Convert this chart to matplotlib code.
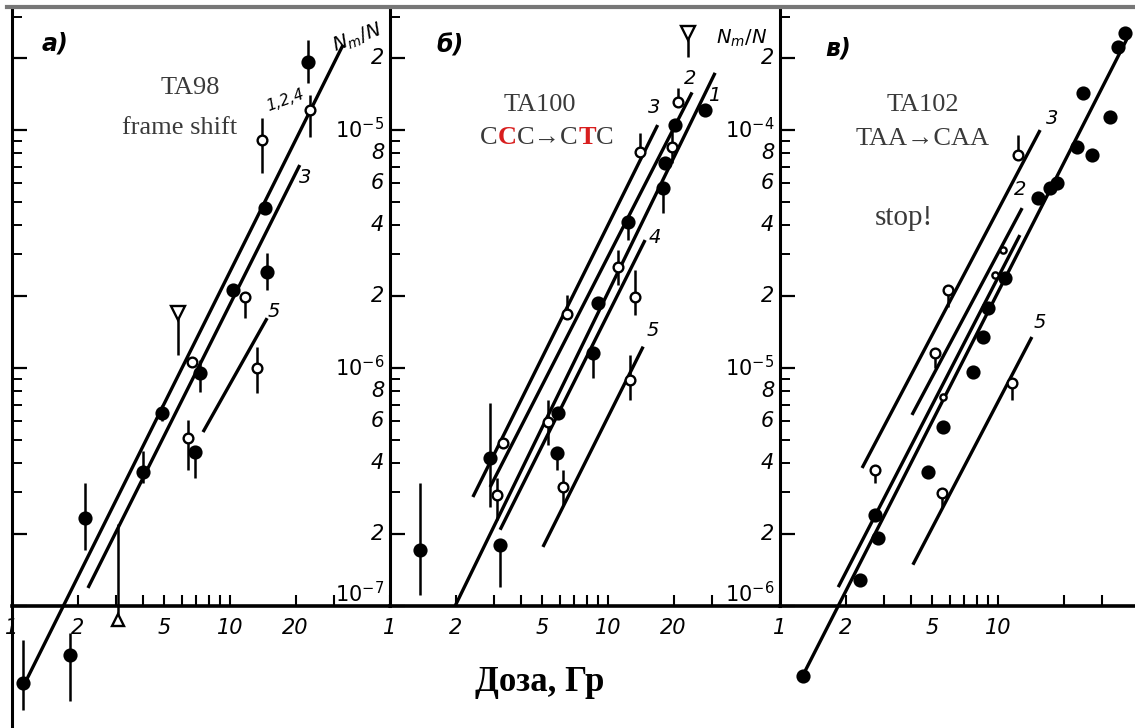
import numpy as np
import matplotlib.pyplot as plt
from matplotlib.ticker import FixedLocator, NullLocator
from matplotlib.transforms import blended_transform_factory
from matplotlib.lines import Line2D

plt.rcParams['mathtext.default'] = 'it'
SERIF = ['Liberation Serif', 'DejaVu Serif']

# ---- панель а) TA98 ----
a_dose = [1.12, 1.85, 2.16, 3.06, 3.99, 4.88, 5.77, 6.42, 6.91, 7.28, 6.7, 13.3, 14.8, 10.3, 11.7, 14.5, 14.0, 23.3, 22.8]
a_val = [4.75e-8, 6.2e-8, 2.34e-7, 8.7e-8, 3.66e-7, 6.5e-7, 1.7e-6, 5.1e-7, 4.44e-7, 9.53e-7, 1.06e-6, 1.0e-6,
         2.53e-6, 2.13e-6, 1.99e-6, 4.70e-6, 9.08e-6, 1.21e-5, 1.93e-5]
a_lo = [3.66e-8, 4.0e-8, 1.72e-7, 8.7e-8, 3.3e-7, 6.0e-7, 1.13e-6, 3.73e-7, 3.45e-7, 7.93e-7, 1.06e-6, 7.85e-7,
        2.13e-6, 2.13e-6, 1.62e-6, 4.70e-6, 6.6e-6, 9.35e-6, 1.57e-5]
a_hi = [7.2e-8, 7.7e-8, 3.3e-7, 2.2e-7, 4.5e-7, 7.0e-7, 1.7e-6, 6.05e-7, 4.44e-7, 1.08e-6, 1.06e-6, 1.22e-6,
        3.04e-6, 2.13e-6, 1.99e-6, 4.70e-6, 1.12e-5, 1.40e-5, 2.39e-5]
a_kind = ['f', 'f', 'f', '^', 'f', 'f', 'v', 'o', 'f', 'f', 'o', 'o', 'f', 'f', 'o', 'f', 'o', 'o', 'f']
a_line_dose = [(1.147, 33.0), (2.23, 20.9), (7.52, 14.8)]
a_line_val = [(4.75e-8, 2.28e-5), (1.19e-7, 7.13e-6), (5.38e-7, 1.62e-6)]
a_lab_txt = ['1,2,4', '3', '5']
a_lab_dose = [17.9, 22.1, 15.8]
a_lab_val = [1.34e-5, 6.3e-6, 1.72e-6]

# ---- панель б) TA100 ----
b_dose = [1.37, 3.2, 2.88, 3.30, 3.10, 5.31, 5.90, 5.83, 6.22, 12.6, 8.53, 9.0, 6.48, 11.1, 12.4, 13.3,
          17.9, 18.3, 14.0, 19.7, 20.3, 20.9, 23.3, 27.9]
b_val = [1.72e-6, 1.80e-6, 4.19e-6, 4.84e-6, 2.93e-6, 5.93e-6, 6.47e-6, 4.39e-6, 3.16e-6, 8.91e-6, 1.16e-5,
         1.88e-5, 1.69e-5, 2.66e-5, 4.11e-5, 1.99e-5, 5.71e-5, 7.26e-5, 8.09e-5, 8.49e-5, 1.05e-4, 1.31e-4,
         2.56e-4, 1.21e-4]
b_lo = [1.11e-6, 1.20e-6, 2.61e-6, 4.84e-6, 2.30e-6, 4.75e-6, 6.47e-6, 3.73e-6, 2.66e-6, 7.34e-6, 9.08e-6,
        1.88e-5, 1.69e-5, 2.23e-5, 3.45e-5, 1.67e-5, 4.48e-5, 7.26e-5, 8.09e-5, 7.3e-5, 1.05e-4, 1.31e-4,
        2.03e-4, 1.21e-4]
b_hi = [3.29e-6, 1.80e-6, 7.13e-6, 4.84e-6, 3.45e-6, 7.34e-6, 6.47e-6, 4.39e-6, 3.73e-6, 1.13e-5, 1.16e-5,
        1.88e-5, 2.03e-5, 3.13e-5, 4.11e-5, 2.58e-5, 5.71e-5, 7.26e-5, 9.71e-5, 1.0e-4, 1.05e-4, 1.5e-4,
        2.56e-4, 1.21e-4]
b_kind = ['f', 'f', 'f', 'o', 'o', 'o', 'f', 'f', 'o', 'o', 'f', 'f', 'o', 'o', 'f', 'o',
          'f', 'f', 'o', 'o', 'f', 'o', 'v', 'f']
b_line_dose = [(2.40, 16.9), (2.88, 24.3), (1.99, 31.0), (3.20, 14.8), (5.03, 14.5)]
b_line_val = [(2.87e-6, 1.05e-4), (3.16e-6, 1.44e-4), (1.0e-6, 1.74e-4), (2.09e-6, 3.45e-5), (1.77e-6, 1.23e-5)]
b_lab_txt = ['3', '2', '1', '4', '5']
b_lab_dose = [16.3, 23.8, 30.6, 16.4, 16.1]
b_lab_val = [1.25e-4, 1.65e-4, 1.40e-4, 3.55e-5, 1.44e-5]

# ---- панель в) TA102 ----
c_dose = [1.27, 2.33, 2.82, 2.73, 2.73, 5.54, 4.77, 5.59, 5.59, 5.14, 7.68, 8.53, 9.0, 11.6, 12.4, 5.90,
          15.3, 17.3, 18.7, 23.0, 24.5, 27.0, 32.6, 38.3, 35.5, 10.5, 9.7, 10.8]
c_val = [5.08e-7, 1.29e-6, 1.93e-6, 2.41e-6, 3.73e-6, 2.98e-6, 3.66e-6, 5.65e-6, 7.55e-6, 1.16e-5, 9.62e-6,
         1.35e-5, 1.79e-5, 8.65e-6, 7.85e-5, 2.13e-5, 5.18e-5, 5.71e-5, 5.99e-5, 8.49e-5, 1.43e-4, 7.85e-5,
         1.13e-4, 2.56e-4, 2.23e-4, 3.13e-5, 2.46e-5, 2.39e-5]
c_lo = [5.08e-7, 1.29e-6, 1.93e-6, 2.41e-6, 3.29e-6, 2.6e-6, 3.66e-6, 5.65e-6, 7.55e-6, 1.0e-5, 9.62e-6,
        1.35e-5, 1.79e-5, 7.34e-6, 7.85e-5, 1.80e-5, 5.18e-5, 5.71e-5, 5.99e-5, 8.49e-5, 1.43e-4, 7.85e-5,
        1.13e-4, 2.56e-4, 2.23e-4, 3.13e-5, 2.46e-5, 2.39e-5]
c_hi = [5.08e-7, 1.29e-6, 1.93e-6, 2.41e-6, 3.73e-6, 2.98e-6, 3.66e-6, 5.65e-6, 7.55e-6, 1.16e-5, 9.62e-6,
        1.35e-5, 1.79e-5, 8.65e-6, 9.53e-5, 2.13e-5, 5.18e-5, 5.71e-5, 5.99e-5, 8.49e-5, 1.43e-4, 7.85e-5,
        1.13e-4, 2.56e-4, 2.23e-4, 3.13e-5, 2.46e-5, 2.39e-5]
c_kind = ['f', 'f', 'f', 'f', 'o', 'o', 'f', 'f', 's', 'o', 'f', 'f', 'f', 'o', 'o', 'o',
          'f', 'f', 'f', 'f', 'f', 'f', 'f', 'f', 'f', 's', 's', 'f']
c_line_dose = [(2.38, 15.6), (4.03, 12.9), (1.85, 12.6), (1.27, 40.3), (4.07, 14.3)]
c_line_val = [(3.80e-6, 1.0e-4), (6.35e-6, 4.70e-5), (1.20e-6, 3.62e-5), (5.08e-7, 2.56e-4), (1.49e-6, 1.35e-5)]
c_lab_txt = ['3', '2', '5']
c_lab_dose = [17.7, 12.6, 15.6]
c_lab_val = [1.12e-4, 5.60e-5, 1.56e-5]

x_ticks = [1, 2, 3, 4, 5, 6, 7, 8, 9, 10, 20, 30]
a_right_val = [2e-5, 1e-5, 8e-6, 6e-6, 4e-6, 2e-6, 1e-6, 8e-7, 6e-7, 4e-7, 2e-7, 1e-7]
a_right_txt = ['2', '$10^{-5}$', '8', '6', '4', '2', '$10^{-6}$', '8', '6', '4', '2', '$10^{-7}$']
b_right_val = [v * 10 for v in a_right_val]
b_right_txt = ['2', '$10^{-4}$', '8', '6', '4', '2', '$10^{-5}$', '8', '6', '4', '2', '$10^{-6}$']

fig = plt.figure(figsize=(11.35, 7.28), dpi=100)

STYLES = {
    'f': dict(marker='o', ms=8.5, mfc='black'),
    'o': dict(marker='o', ms=7, mfc='white'),
    's': dict(marker='o', ms=4.5, mfc='white'),
    'v': dict(marker='v', ms=10, mfc='white'),
    '^': dict(marker='^', ms=9, mfc='white'),
}


def draw_panel(rect, vb, xmax, dose, val, lo, hi, kind, ln_dose, ln_val,
               lab_txt, lab_dose, lab_val, xlabels, r_val, r_txt, full_left=False):
    ax = fig.add_axes(rect)
    ax.patch.set_alpha(0)
    ax.set_xscale('log')
    ax.set_yscale('log')
    ax.set_xlim(1, xmax)
    ax.set_ylim(vb * 10 ** -0.513, vb * 10 ** 2.513)
    top = ax.get_ylim()[1]

    for (d0, d1), (v0, v1) in zip(ln_dose, ln_val):
        ax.plot([d0, d1], [v0, v1], color='black', lw=2.4, solid_capstyle='butt')

    dose, val = np.array(dose), np.array(val)
    yerr = [val - np.array(lo), np.array(hi) - val]
    ax.errorbar(dose, val, yerr=yerr, fmt='none', ecolor='black', elinewidth=1.8, capsize=0)
    kind = np.array(kind)
    for k, st in STYLES.items():
        m = kind == k
        if m.any():
            ax.plot(dose[m], val[m], ls='none', mec='black', mew=1.7, zorder=3, **st)

    for t, d, v in zip(lab_txt, lab_dose, lab_val):
        ax.text(d, v, t, fontsize=11 if ',' in t else 14, style='italic',
                ha='center', va='center', rotation=20 if ',' in t else 0)

    for s in ('top', 'right'):
        ax.spines[s].set_visible(False)
    ax.spines['bottom'].set_position(('data', vb))
    ax.spines['bottom'].set_linewidth(2.6)
    ax.spines['left'].set_linewidth(2.2)
    if not full_left:
        ax.spines['left'].set_bounds(vb, top)

    ax.xaxis.set_major_locator(FixedLocator(x_ticks))
    ax.xaxis.set_minor_locator(NullLocator())
    ax.set_xticklabels([str(t) if t in xlabels else '' for t in x_ticks],
                       fontsize=15, style='italic')
    ax.tick_params(axis='x', direction='in', length=8, width=1.5, pad=9)

    ymaj = [m * 10.0 ** e for e in range(-8, -2) for m in (1, 2)]
    ymin = [m * 10.0 ** e for e in range(-8, -2) for m in range(3, 10)]
    ax.yaxis.set_major_locator(FixedLocator([y for y in ymaj if vb * 0.99 <= y <= top]))
    ax.yaxis.set_minor_locator(FixedLocator([y for y in ymin if vb <= y <= top]))
    ax.tick_params(axis='y', which='major', direction='in', length=11, width=1.6, labelleft=False)
    ax.tick_params(axis='y', which='minor', direction='in', length=7, width=1.4, labelleft=False)

    tr = blended_transform_factory(ax.transAxes, ax.transData)
    for v, t in zip(r_val, r_txt):
        ax.text(0.985, v, t, transform=tr, ha='right', va='bottom' if v == vb else 'center',
                fontsize=15, style='italic')
    return ax


ax_a = draw_panel([0.0106, 0, 0.3330, 0.989], 1e-7, 54.2, a_dose, a_val, a_lo, a_hi, a_kind,
                  a_line_dose, a_line_val, a_lab_txt, a_lab_dose, a_lab_val, [1, 2, 5, 10, 20],
                  a_right_val, a_right_txt, full_left=True)
ax_b = draw_panel([0.3436, 0, 0.3436, 0.989], 1e-6, 61.5, b_dose, b_val, b_lo, b_hi, b_kind,
                  b_line_dose, b_line_val, b_lab_txt, b_lab_dose, b_lab_val, [1, 2, 5, 10, 20],
                  b_right_val, b_right_txt)
ax_c = draw_panel([0.6872, 0, 0.3392, 0.989], 1e-6, 58.3, c_dose, c_val, c_lo, c_hi, c_kind,
                  c_line_dose, c_line_val, c_lab_txt, c_lab_dose, c_lab_val, [1, 2, 5, 10],
                  [], [])

# верхняя рамка
fig.add_artist(Line2D([0.006, 1], [0.990, 0.990], color='#777777', lw=3))

# подписи панелей
for x, y, t in [(0.0485, 0.9396, 'а)'), (0.3965, 0.938, 'б)'), (0.7383, 0.934, 'в)')]:
    fig.text(x, y, t, fontsize=17, style='italic', fontweight='bold', ha='center', va='center')
fig.text(0.3145, 0.9478, '$N_m/N$', fontsize=14, ha='center', va='center', rotation=20)
fig.text(0.6537, 0.9478, '$N_m/N$', fontsize=14, ha='center', va='center')

grey = '#3a3a3a'
fig.text(0.1674, 0.8791, 'TA98', family=SERIF, fontsize=19, color=grey, ha='center', va='center')
fig.text(0.1586, 0.8242, 'frame shift', family=SERIF, fontsize=19, color=grey, ha='center', va='center')
fig.text(0.4758, 0.8558, 'TA100', family=SERIF, fontsize=19, color=grey, ha='center', va='center')
fig.text(0.8132, 0.8558, 'TA102', family=SERIF, fontsize=19, color=grey, ha='center', va='center')
fig.text(0.8132, 0.8091, 'TAA→CAA', family=SERIF, fontsize=19, color=grey, ha='center', va='center')
fig.text(0.7965, 0.7005, 'stop!', family=SERIF, fontsize=21, color=grey, ha='center', va='center')

# CCC→CTC с красными буквами
parts = [('C', grey, 'normal'), ('C', '#d81e1e', 'bold'), ('C→C', grey, 'normal'),
         ('T', '#d81e1e', 'bold'), ('C', grey, 'normal')]
t = fig.text(0.4229, 0.8104, parts[0][0], family=SERIF, fontsize=19, color=parts[0][1],
             fontweight=parts[0][2], ha='left', va='center')
for s, c, w in parts[1:]:
    t = ax_b.annotate(s, xy=(1, 0), xycoords=t, ha='left', va='bottom', family=SERIF,
                      fontsize=19, color=c, fontweight=w)

fig.text(0.4758, 0.062, 'Доза, Гр', family=SERIF, fontsize=25, fontweight='bold',
         ha='center', va='center')

plt.savefig('out.png', dpi=100)
